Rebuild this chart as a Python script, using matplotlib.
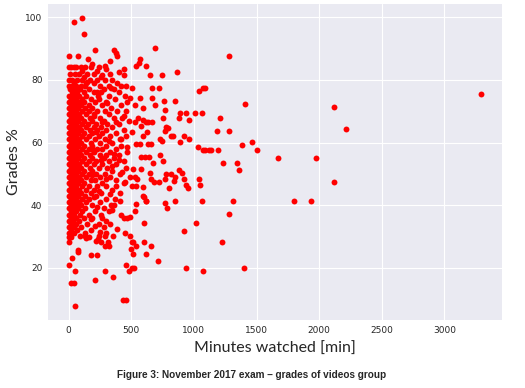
import matplotlib
matplotlib.use("Agg")
import matplotlib.pyplot as plt

# (minutes watched, grade %)
top_pts = [
    (40, 98.6), (104, 99.7), (125, 94.6), (0, 87.6), (72, 87.6), (213, 89.5),
    (157, 86.6), (365, 89.5), (376, 88.5), (386, 87.6), (690, 90.3), (1277, 87.6),
    (573, 86.7), (558, 85.4), (541, 84.3), (614, 84.3), (445, 83.4), (288, 84.3),
    (0, 84), (20, 84), (40, 84), (60, 84), (95, 84), (130, 84), (180, 84), (245, 84),
    (110, 83), (300, 83.5),
    (10, 82), (50, 82), (85, 82), (150, 82), (200, 82), (330, 82), (400, 82.5),
    (648, 81.6), (746, 81.6), (864, 82.5),
    (120, 81), (260, 81), (440, 81.5),
    (0, 80), (30, 80), (70, 80), (105, 80), (170, 80), (225, 80), (290, 80), (350, 80),
    (45, 79), (140, 79), (200, 79), (390, 79),
    (0, 78), (25, 78), (60, 78), (95, 78), (130, 78), (250, 78), (320, 78), (420, 78),
]

upper_pts = [
    (10, 77), (50, 77), (90, 77), (165, 77), (280, 77), (360, 77), (504, 77.4),
    (669, 77.4), (725, 77.4), (1040, 76.4), (1072, 77.3), (1088, 77.4),
    (30, 76), (70, 76), (120, 76), (200, 76), (230, 76), (260, 76), (400, 76),
    (0, 75), (45, 75), (85, 75), (140, 75), (320, 75), (450, 75),
    (20, 74), (60, 74), (105, 74), (180, 74), (240, 74), (370, 74), (488, 74.1),
    (568, 74.1), (669, 74.1),
    (0, 73), (40, 73), (80, 73), (125, 73), (210, 73), (300, 73), (760, 73.3), (853, 73.3),
    (15, 72), (55, 72), (100, 72), (160, 72), (270, 72), (420, 72), (528, 72),
    (690, 72), (1408, 72.3),
    (0, 71), (35, 71), (75, 71), (130, 71), (190, 71), (340, 71), (594, 71.2), (770, 70.5),
    (20, 70), (60, 70), (110, 70), (165, 70), (230, 70), (290, 70), (390, 70), (460, 70),
    (0, 69), (40, 69), (85, 69), (140, 69), (200, 69), (320, 69), (886, 69.5),
    (941, 69.5), (1008, 69.5), (1061, 69.5),
    (15, 68), (55, 68), (100, 68), (170, 68), (250, 68), (360, 68), (430, 68),
    (550, 68), (754, 68), (878, 68), (1210, 68),
    (0, 67), (35, 67), (75, 67), (125, 67), (185, 67), (280, 67), (480, 67),
    (592, 67.2), (962, 67.2),
    (20, 66), (60, 66), (105, 66), (155, 66), (220, 66), (310, 66), (400, 66),
    (528, 66.5), (614, 66.5), (634, 66.5), (669, 66.5),
    (0, 65), (40, 65), (85, 65), (140, 65), (200, 65), (260, 65), (350, 65),
    (581, 65.4), (781, 65),
    (15, 64), (55, 64), (100, 64), (170, 64), (230, 64), (300, 64), (440, 64), (797, 64.6),
    (0, 63), (35, 63), (75, 63), (125, 63), (190, 63), (270, 63), (380, 63),
    (502, 63.4), (626, 63.4), (768, 63.6), (1181, 63.6), (1280, 63.6),
    (20, 62), (60, 62), (110, 62), (160, 62), (240, 62), (330, 62), (460, 62),
    (594, 62.2), (814, 62.2), (834, 62.2), (920, 62.2),
    (0, 61), (40, 61), (85, 61), (140, 61), (210, 61), (290, 61), (410, 61),
    (728, 61.3), (962, 61.3),
    (15, 60), (55, 60), (100, 60), (175, 60), (250, 60), (350, 60), (746, 60.6),
    (890, 60.2), (1464, 60.3),
]

middle_pts = [
    (0, 59), (35, 59), (75, 59), (125, 59), (190, 59), (300, 59), (420, 59),
    (541, 59.5), (568, 59.5), (634, 59.5), (661, 59.5), (1386, 59.3), (1030, 58.6),
    (20, 58), (60, 58), (110, 58), (160, 58), (230, 58), (270, 58), (380, 58),
    (0, 57), (40, 57), (85, 57), (140, 57), (200, 57), (330, 57), (470, 57),
    (1074, 57.5), (1122, 57.5), (1136, 57.5), (1192, 57.5), (1088, 57.6), (1506, 57.6),
    (15, 56), (55, 56), (100, 56), (170, 56), (250, 56), (300, 56), (400, 56), (732, 56.1),
    (0, 55), (35, 55), (75, 55), (125, 55), (190, 55), (280, 55), (360, 55),
    (581, 55.3), (608, 55.3), (642, 55.3), (1669, 55.1), (1976, 55.1),
    (20, 54), (60, 54), (110, 54), (160, 54), (220, 54), (320, 54), (440, 54), (750, 54.2),
    (0, 53), (40, 53), (85, 53), (140, 53), (200, 53), (270, 53), (380, 53),
    (674, 53.4), (1234, 53.4), (1344, 53.4),
    (15, 52), (55, 52), (100, 52), (170, 52), (240, 52), (310, 52), (460, 52),
    (0, 51), (35, 51), (75, 51), (125, 51), (190, 51), (350, 51), (514, 51.5),
    (581, 51.5), (882, 51.2), (1363, 51.4),
    (20, 50), (60, 50), (110, 50), (160, 50), (220, 50), (290, 50), (410, 50),
    (648, 50.3), (902, 50.2), (781, 49.9), (821, 49.9),
    (0, 49), (40, 49), (85, 49), (140, 49), (250, 49), (330, 49), (488, 48.9),
    (528, 49.1), (848, 48.9),
    (15, 48), (55, 48), (100, 48), (175, 48), (210, 48), (380, 48), (546, 48.3),
    (661, 48.3), (768, 48.3), (920, 48.3), (1040, 48.3),
    (0, 47), (35, 47), (75, 47), (125, 47), (270, 47), (440, 47), (682, 47.3),
    (720, 47.3), (840, 47.8), (2115, 47.3),
    (20, 46), (60, 46), (110, 46), (160, 46), (230, 46), (300, 46), (509, 46.2),
    (541, 46.2), (941, 46.4), (1048, 46.4),
    (0, 45), (40, 45), (85, 45), (140, 45), (200, 45), (350, 45), (594, 45.7),
    (802, 45.4), (954, 45.5),
]

lower_pts = [
    (15, 44), (55, 44), (100, 44), (175, 44), (260, 44), (410, 44),
    (0, 43), (35, 43), (75, 43), (130, 43), (220, 43), (590, 43),
    (20, 42), (60, 42), (110, 42), (160, 42), (300, 42), (370, 42), (602, 42.5),
    (0, 41), (40, 41), (85, 41), (140, 41), (250, 41), (614, 41.4), (621, 41.4),
    (853, 41.4), (1061, 41.3), (1312, 41.2), (1800, 41.2), (1938, 41.2),
    (15, 40), (55, 40), (100, 40), (190, 40), (340, 40), (360, 40), (536, 40.4), (768, 40.6),
    (0, 39), (35, 39), (75, 39), (130, 39), (280, 39), (789, 39.1),
    (20, 38), (60, 38), (110, 38), (210, 38), (320, 38), (528, 38),
    (0, 37), (40, 37), (90, 37), (160, 37), (260, 37), (420, 37), (1280, 37.2),
    (15, 36), (55, 36), (120, 36), (190, 36), (440, 36), (470, 36), (488, 36.3),
    (0, 35), (35, 35), (80, 35), (300, 35),
    (20, 34), (60, 34), (150, 34), (240, 34), (602, 34.4), (1016, 34.4),
    (0, 33), (40, 33), (100, 33), (280, 33),
    (15, 32), (65, 32), (180, 32), (922, 31.9),
    (0, 31), (40, 31), (130, 31), (300, 31), (448, 31.1),
    (20, 30), (93, 30.2), (128, 30.2), (245, 30.2), (288, 30.2), (352, 30.2), (488, 30.2),
    (0, 29.7), (141, 29.4), (238, 29.2),
    (0, 28.3), (261, 28.4), (314, 28.1), (506, 28.1), (514, 28.1), (602, 28.3), (1221, 28.3),
    (293, 27), (322, 27), (541, 27), (658, 26.9), (501, 26), (72, 25.8), (72, 24.9),
    (181, 24.2), (224, 24.2), (514, 24.4), (616, 24.3), (30, 23.2), (712, 22.2),
    (5, 21), (462, 21), (509, 19.9), (520, 20.1), (941, 20), (1400, 19.9),
    (53, 18.9), (288, 18.9), (480, 19), (1069, 18.9), (357, 17.1), (213, 16.2),
    (21, 15), (40, 15), (434, 9.8), (458, 9.8), (53, 7.9),
]

# points in the 150-480 min band, between the dense column and the sparse tail
band_pts = [
    (150, 79.5), (235, 75), (310, 72.5), (205, 68.5), (265, 66.5), (380, 66.5),
    (215, 63.5), (320, 60.5), (195, 57.5), (260, 54.5), (345, 52.5), (185, 49.5),
    (300, 48.5), (245, 44.5), (200, 42.5), (330, 43.5), (230, 39.5), (180, 35.5),
    (270, 36), (350, 38.5), (210, 33.5), (330, 34), (390, 32.5), (250, 31.5),
    (160, 30), (220, 28.5), (410, 41.5), (380, 46), (430, 50.5), (360, 56.5),
    (420, 61), (440, 68.5), (470, 73), (455, 78), (340, 77.5), (270, 81.5),
    (230, 83), (190, 85), (330, 86), (400, 54.5), (470, 58.5), (450, 47.5),
]

outlier_pts = [(3296, 75.5), (2211, 64.3), (2115, 71.4)]

all_pts = top_pts + upper_pts + middle_pts + lower_pts + band_pts + outlier_pts
minutes = [p[0] for p in all_pts]
grades = [p[1] for p in all_pts]

plt.style.use("seaborn-v0_8-darkgrid")
plt.rcParams["font.family"] = ["DejaVu Sans"]

fig = plt.figure(figsize=(5.25, 3.88), dpi=100)
ax = fig.add_axes([0.0914, 0.175, 0.865, 0.815])
ax.scatter(minutes, grades, s=18, c="red", linewidths=0)

ax.set_xticks([0, 500, 1000, 1500, 2000, 2500, 3000])
ax.set_yticks([20, 40, 60, 80, 100])
ax.tick_params(labelsize=6.5, pad=4, length=0)
ax.set_xlabel("Minutes watched [min]", fontsize=11.5, family="Lato", labelpad=5)
ax.set_ylabel("Grades %", fontsize=11.5, family="Lato", labelpad=3)

fig.text(0.48, 0.033, "Figure 3: November 2017 exam \u2013 grades of videos group",
         ha="center", va="center", fontsize=7.2, fontweight="bold",
         family="Liberation Sans")

fig.savefig("out.png", dpi=100, facecolor="white")
